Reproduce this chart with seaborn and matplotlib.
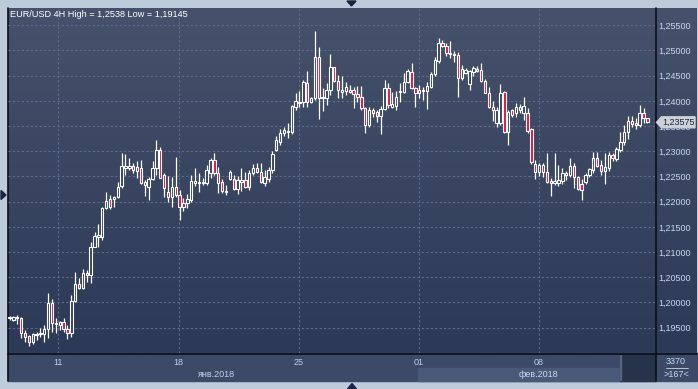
import numpy as np
import matplotlib
matplotlib.use("Agg")
import matplotlib.pyplot as plt
import seaborn as sns
from matplotlib.patches import Rectangle, Polygon
from matplotlib.colors import LinearSegmentedColormap

sns.set_theme(style="dark")
plt.rcParams['font.family'] = ['Liberation Sans', 'DejaVu Sans']

# ---------------- data (EUR/USD 4H candles) ----------------
opens = [1.19690, 1.19655, 1.19695, 1.19701, 1.19404, 1.19337, 1.19212, 1.19357, 1.19371, 1.19371,
         1.19470, 1.19985, 1.19569, 1.19556, 1.19608, 1.19470, 1.19390, 1.20031, 1.20362, 1.20296,
         1.20580, 1.20540, 1.21109, 1.21307, 1.21307, 1.21869, 1.22047, 1.22047, 1.22100, 1.22318,
         1.22662, 1.22662, 1.22708, 1.22616, 1.22663, 1.22332, 1.22299, 1.22444, 1.22663, 1.23026,
         1.22530, 1.22200, 1.22088, 1.22286, 1.22134, 1.21902, 1.21968, 1.22035, 1.22378, 1.22378,
         1.22365, 1.22378, 1.22563, 1.22828, 1.22563, 1.22398, 1.22213, 1.22444, 1.22444, 1.22246,
         1.22398, 1.22431, 1.22286, 1.22577, 1.22676, 1.22596, 1.22378, 1.22460, 1.22620, 1.23030,
         1.23180, 1.23360, 1.23378, 1.23378, 1.23887, 1.23953, 1.23972, 1.24349, 1.23972, 1.24052,
         1.24865, 1.24052, 1.24052, 1.24217, 1.24667, 1.24396, 1.24184, 1.24197, 1.24184, 1.24210,
         1.24131, 1.24072, 1.23854, 1.23523, 1.23814, 1.23774, 1.23708, 1.23840, 1.24250, 1.23887,
         1.23900, 1.24178, 1.24184, 1.24369, 1.24581, 1.24250, 1.24151, 1.24197, 1.24204, 1.24283,
         1.24528, 1.24799, 1.25143, 1.25090, 1.24924, 1.24931, 1.24911, 1.24448, 1.24548, 1.24336,
         1.24581, 1.24587, 1.24614, 1.24402, 1.24164, 1.23874, 1.23556, 1.23556, 1.24184, 1.23391,
         1.23821, 1.23755, 1.23821, 1.23767, 1.23767, 1.23436, 1.22749, 1.22597, 1.22729, 1.22597,
         1.22418, 1.22365, 1.22378, 1.22418, 1.22531, 1.22531, 1.22709, 1.22484, 1.22345, 1.22398,
         1.22531, 1.22630, 1.22861, 1.22729, 1.22616, 1.22663, 1.22927, 1.22848, 1.23026, 1.23191,
         1.23390, 1.23608, 1.23555, 1.23522, 1.23767, 1.23654]
highs = [1.19741, 1.19741, 1.19754, 1.19721, 1.19456, 1.19357, 1.19404, 1.19417, 1.19490, 1.19556,
         1.20184, 1.20064, 1.19688, 1.19635, 1.19701, 1.19556, 1.20151, 1.20600, 1.20481, 1.20666,
         1.20646, 1.21208, 1.21393, 1.21552, 1.21902, 1.22186, 1.22127, 1.22120, 1.22398, 1.22960,
         1.22940, 1.22860, 1.22761, 1.22814, 1.22828, 1.22431, 1.22497, 1.22808, 1.23224, 1.23092,
         1.22563, 1.22510, 1.22497, 1.22881, 1.22233, 1.22068, 1.22154, 1.22530, 1.22663, 1.22563,
         1.22464, 1.22729, 1.22861, 1.22973, 1.22696, 1.22444, 1.22332, 1.22630, 1.22530, 1.22510,
         1.22663, 1.22596, 1.22630, 1.22742, 1.22762, 1.22762, 1.22630, 1.22680, 1.23000, 1.23300,
         1.23450, 1.23480, 1.23556, 1.23920, 1.24151, 1.24197, 1.24415, 1.24594, 1.24085, 1.25380,
         1.25076, 1.24250, 1.24349, 1.24924, 1.24680, 1.24515, 1.24501, 1.24369, 1.24316, 1.24283,
         1.24296, 1.24296, 1.23887, 1.23887, 1.23854, 1.23820, 1.23906, 1.24415, 1.24349, 1.24184,
         1.24197, 1.24363, 1.24548, 1.24627, 1.24746, 1.24283, 1.24316, 1.24283, 1.24382, 1.24581,
         1.24878, 1.25255, 1.25209, 1.25156, 1.25195, 1.24997, 1.24977, 1.24713, 1.24647, 1.24614,
         1.24693, 1.24693, 1.24746, 1.24429, 1.24283, 1.24006, 1.23874, 1.24329, 1.24204, 1.23821,
         1.23834, 1.23953, 1.23940, 1.24084, 1.23852, 1.23456, 1.22828, 1.22762, 1.22762, 1.22973,
         1.22464, 1.22973, 1.22729, 1.22663, 1.22610, 1.22861, 1.22762, 1.22511, 1.22444, 1.22564,
         1.22663, 1.22993, 1.22993, 1.22828, 1.22973, 1.22993, 1.22960, 1.23092, 1.23390, 1.23522,
         1.23700, 1.23700, 1.23654, 1.23919, 1.23852, 1.23670]
lows = [1.19655, 1.19635, 1.19569, 1.19304, 1.19212, 1.19145, 1.19179, 1.19258, 1.19324, 1.19225,
        1.19304, 1.19410, 1.19404, 1.19456, 1.19423, 1.19278, 1.19324, 1.20018, 1.20270, 1.20270,
        1.20415, 1.20395, 1.21109, 1.21109, 1.21241, 1.21856, 1.21856, 1.21902, 1.22067, 1.22279,
        1.22530, 1.22629, 1.22576, 1.22477, 1.22352, 1.22114, 1.22035, 1.22431, 1.22530, 1.22464,
        1.22101, 1.22002, 1.21902, 1.22101, 1.21638, 1.21823, 1.21869, 1.22002, 1.22312, 1.22200,
        1.22332, 1.22332, 1.22464, 1.22530, 1.22180, 1.22167, 1.22134, 1.22431, 1.22233, 1.22154,
        1.22220, 1.22266, 1.22233, 1.22530, 1.22563, 1.22365, 1.22312, 1.22400, 1.22560, 1.23000,
        1.23130, 1.23300, 1.23259, 1.23338, 1.23820, 1.23887, 1.23887, 1.23887, 1.23953, 1.24019,
        1.23635, 1.23801, 1.23920, 1.24118, 1.24382, 1.24052, 1.24052, 1.24118, 1.24151, 1.23854,
        1.23972, 1.23820, 1.23358, 1.23490, 1.23688, 1.23589, 1.23338, 1.23820, 1.23854, 1.23854,
        1.23821, 1.23986, 1.24151, 1.24349, 1.24230, 1.23874, 1.24052, 1.24019, 1.23840, 1.24250,
        1.24501, 1.24746, 1.25076, 1.24891, 1.24845, 1.24766, 1.24085, 1.24416, 1.24534, 1.24217,
        1.24501, 1.24581, 1.24382, 1.24151, 1.23854, 1.23609, 1.23490, 1.23523, 1.23358, 1.23127,
        1.23675, 1.23675, 1.23755, 1.23621, 1.23357, 1.22749, 1.22444, 1.22511, 1.22497, 1.22365,
        1.22114, 1.22332, 1.22319, 1.22345, 1.22431, 1.22484, 1.22266, 1.22233, 1.22035, 1.22352,
        1.22484, 1.22577, 1.22696, 1.22531, 1.22345, 1.22616, 1.22815, 1.22815, 1.22993, 1.23125,
        1.23238, 1.23476, 1.23436, 1.23489, 1.23555, 1.23560]
closes = [1.19705, 1.19714, 1.19705, 1.19390, 1.19324, 1.19212, 1.19384, 1.19384, 1.19404, 1.19483,
          1.19985, 1.19589, 1.19602, 1.19608, 1.19470, 1.19390, 1.20038, 1.20362, 1.20296, 1.20580,
          1.20540, 1.21109, 1.21327, 1.21333, 1.21869, 1.22014, 1.21902, 1.22100, 1.22299, 1.22708,
          1.22708, 1.22708, 1.22629, 1.22695, 1.22365, 1.22385, 1.22444, 1.22663, 1.23026, 1.22477,
          1.22266, 1.22088, 1.22286, 1.22134, 1.21902, 1.21968, 1.22048, 1.22411, 1.22411, 1.22398,
          1.22398, 1.22630, 1.22828, 1.22563, 1.22378, 1.22213, 1.22187, 1.22596, 1.22246, 1.22431,
          1.22431, 1.22286, 1.22577, 1.22676, 1.22596, 1.22391, 1.22484, 1.22620, 1.22950, 1.23220,
          1.23360, 1.23420, 1.23404, 1.23900, 1.23999, 1.23986, 1.24369, 1.23972, 1.24052, 1.24865,
          1.24065, 1.24072, 1.24217, 1.24667, 1.24396, 1.24217, 1.24217, 1.24283, 1.24217, 1.24131,
          1.24072, 1.23854, 1.23523, 1.23814, 1.23754, 1.23701, 1.23840, 1.24250, 1.23920, 1.23940,
          1.24085, 1.24197, 1.24369, 1.24601, 1.24250, 1.24151, 1.24217, 1.24217, 1.24296, 1.24528,
          1.24812, 1.25143, 1.25090, 1.24944, 1.24944, 1.24911, 1.24448, 1.24627, 1.24614, 1.24587,
          1.24647, 1.24627, 1.24402, 1.24164, 1.23874, 1.23821, 1.23821, 1.24151, 1.23391, 1.23788,
          1.23721, 1.23887, 1.23874, 1.23899, 1.23410, 1.22795, 1.22597, 1.22729, 1.22597, 1.22398,
          1.22365, 1.22411, 1.22431, 1.22564, 1.22564, 1.22709, 1.22484, 1.22246, 1.22233, 1.22531,
          1.22643, 1.22861, 1.22709, 1.22616, 1.22683, 1.22927, 1.22861, 1.23039, 1.23191, 1.23390,
          1.23608, 1.23542, 1.23515, 1.23767, 1.23654, 1.23575]

day_labels = ["11", "18", "25", "01", "08"]
day_pos = [12.67, 43.77, 74.88, 105.92, 136.89]     # bar index of each day boundary
month_labels = ["янв.2018", "фев.2018"]
price_ticks = [1.195, 1.200, 1.205, 1.210, 1.215, 1.220, 1.225,
               1.230, 1.235, 1.240, 1.245, 1.250, 1.255]
price_tick_labels = ["1,19500", "1,20000", "1,20500", "1,21000", "1,21500", "1,22000", "1,22500",
                     "1,23000", "1,23500", "1,24000", "1,24500", "1,25000", "1,25500"]
title_text = "EUR/USD 4H High = 1,2538 Low = 1,19145"
last_price_label = "1,23575"
volume_text = "3370"
bars_text = ">167<"

# ---------------- figure / layout ----------------
W, H = 698, 389
fig = plt.figure(figsize=(W / 100, H / 100), dpi=100)
fig.patch.set_facecolor("#bdcbdb")

def px_axes(x0, y0, x1, y1, **kw):
    return fig.add_axes([x0 / W, 1 - y1 / H, (x1 - x0) / W, (y1 - y0) / H], **kw)

# back layer in pixel coords
back = fig.add_axes([0, 0, 1, 1], zorder=0)
back.set_xlim(0, W)
back.set_ylim(H, 0)
back.axis("off")
cmap = LinearSegmentedColormap.from_list("bg", ["#46526b", "#2c3957"])
grad = np.linspace(0, 1, 256).reshape(-1, 1)
back.imshow(grad, cmap=cmap, aspect="auto", extent=[8, 697, 353, 8], zorder=0)
back.add_patch(Rectangle((8, 353), 689, 28, color="#3c4a67", zorder=1))
back.add_patch(Rectangle((418, 367.5), 203, 13.5, color="#4a5977", zorder=2))
back.add_patch(Rectangle((620, 354), 35, 27, color="#27324b", zorder=2))
back.add_patch(Rectangle((619.5, 355), 1, 25, color="#56657f", zorder=3))
back.plot([8, 8], [8, 381], color="#0a0f1a", lw=1.2, zorder=4)
back.plot([8, 697], [353.5, 353.5], color="#0a0f1a", lw=1.2, zorder=4)
back.plot([655.5, 655.5], [8, 381], color="#0a0f1a", lw=1.2, zorder=4)

# main price axes
ax = px_axes(8, 8, 655, 353, zorder=2)
ax.set_facecolor("none")
idx = np.arange(len(opens))
o = np.array(opens); h = np.array(highs); l = np.array(lows); c = np.array(closes)
ax.vlines(idx, l, h, color="white", lw=0.9, zorder=3)
bottoms = np.minimum(o, c)
heights = np.maximum(np.abs(c - o), 0.00012)
up = c >= o
ax.bar(idx[up], heights[up], bottom=bottoms[up], width=0.62,
       color="#36435f", edgecolor="white", linewidth=0.8, zorder=4)
ax.bar(idx[~up], heights[~up], bottom=bottoms[~up], width=0.62,
       color="#e3103f", edgecolor="white", linewidth=0.8, zorder=4)

ax.set_xlim(-0.39, 166.97)
ax.set_ylim(1.18998, 1.25843)
ax.set_yticks(price_ticks)
ax.set_yticklabels(price_tick_labels)
ax.set_xticks(day_pos)
ax.set_xticklabels(day_labels)
ax.yaxis.tick_right()
ax.tick_params(axis="y", length=0, pad=2.2, labelsize=6.5, labelcolor="#c8d8ee")
ax.tick_params(axis="x", length=0, pad=3.6, labelsize=6.5, labelcolor="#bccfea")
ax.grid(True, color="#5d6d8e", linestyle=(0, (2, 2)), linewidth=0.8)
for s in ax.spines.values():
    s.set_visible(False)

# front layer in pixel coords
front = fig.add_axes([0, 0, 1, 1], zorder=5)
front.set_xlim(0, W)
front.set_ylim(H, 0)
front.axis("off")
front.patch.set_alpha(0)

front.text(10, 14, title_text, color="white", fontsize=6.6, ha="left", va="center")

# current price tag
fig.canvas.draw()
_, ypix = ax.transData.transform((0, closes[-1]))
ytag = H - ypix
front.add_patch(Polygon([(656.5, ytag), (661.5, ytag - 5.5), (695, ytag - 5.5),
                         (695, ytag + 5.5), (661.5, ytag + 5.5)],
                        closed=True, color="#cdd1d8", zorder=6))
front.text(662, ytag, last_price_label, color="#1b2335", fontsize=6.5,
           ha="left", va="center", zorder=7)

# month labels
front.text(216, 374.5, month_labels[0], color="#c0d2ea", fontsize=6.5, ha="center", va="center")
front.text(538, 374.5, month_labels[1], color="#c8d8ee", fontsize=6.5, ha="center", va="center")

# bottom-right info
front.text(676, 362, volume_text, color="#c8d8ee", fontsize=6.5, ha="center", va="center")
front.plot([665.5, 687.5], [367.8, 367.8], color="#c8d8ee", lw=0.6)
front.text(676, 374.5, bars_text, color="#c8d8ee", fontsize=6.5, ha="center", va="center")

# small navigation triangles in the frame
tri_col = "#1a2440"
front.add_patch(Polygon([(347, 1), (356, 1), (351.5, 6)], closed=True, color=tri_col))
front.add_patch(Polygon([(347.5, 389), (356.5, 389), (352, 383.5)], closed=True, color=tri_col))
front.add_patch(Polygon([(1, 190.5), (1, 199.5), (6, 195)], closed=True, color=tri_col))

fig.savefig("out.png", dpi=100, facecolor=fig.get_facecolor())
